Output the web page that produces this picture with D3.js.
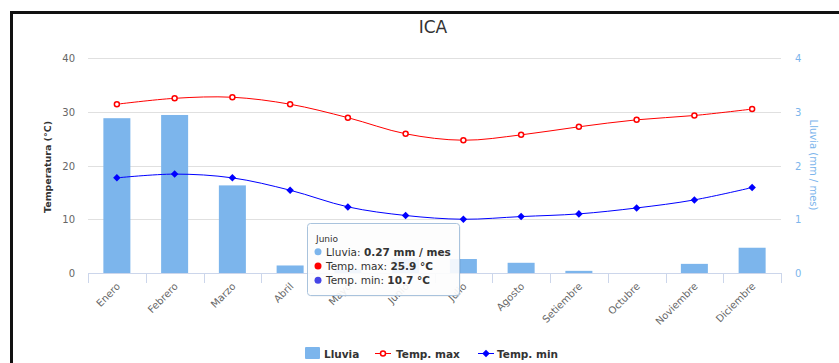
<!DOCTYPE html>
<html>
<head>
<meta charset="utf-8">
<script src="https://cdn.jsdelivr.net/npm/d3@7"></script>
<style>
  body { margin: 0; background: #fff; }
  svg { display: block; font-family: "DejaVu Sans", sans-serif; }
</style>
</head>
<body>
<div id="chart"></div>
<script>
var meses = ["Enero", "Febrero", "Marzo", "Abril", "Mayo", "Junio", "Julio",
  "Agosto", "Setiembre", "Octubre", "Noviembre", "Diciembre"];
var lluvia = [2.88, 2.94, 1.63, 0.14, 0.08, 0.27, 0.26, 0.19, 0.04, 0, 0.17, 0.47];
var tempMax = [31.4, 32.5, 32.7, 31.4, 28.9, 25.9, 24.7, 25.7, 27.2, 28.5, 29.3, 30.5];
var tempMin = [17.7, 18.4, 17.7, 15.4, 12.3, 10.7, 10.0, 10.5, 11.0, 12.1, 13.6, 15.9];
var tempTicks = [0, 10, 20, 30, 40];
var lluviaTicks = [0, 1, 2, 3, 4];

var width = 839, height = 363;
var plotLeft = 88, plotRight = 781, plotTop = 58, plotBottom = 273;

var svg = d3.select("#chart").append("svg")
  .attr("width", width)
  .attr("height", height);

// frame
svg.append("path")
  .attr("d", "M11.5,363 V12.5 H839")
  .attr("fill", "none")
  .attr("stroke", "#111")
  .attr("stroke-width", 3);

var x = d3.scaleBand().domain(meses).range([plotLeft, plotRight]);
var yT = d3.scaleLinear().domain([0, 40]).range([plotBottom, plotTop]);
var yL = d3.scaleLinear().domain([0, 4]).range([plotBottom, plotTop]);

// title
svg.append("text")
  .attr("x", 433).attr("y", 33)
  .attr("text-anchor", "middle")
  .style("font-size", "17px")
  .style("fill", "#333")
  .text("ICA");

// grid
svg.append("g").selectAll("line")
  .data(tempTicks.slice(1))
  .enter().append("line")
  .attr("x1", plotLeft).attr("x2", plotRight)
  .attr("y1", function(d) { return Math.round(yT(d)) + 0.5; })
  .attr("y2", function(d) { return Math.round(yT(d)) + 0.5; })
  .attr("stroke", "#e0e0e0");

// left axis labels
svg.append("g").selectAll("text")
  .data(tempTicks)
  .enter().append("text")
  .attr("x", 75).attr("y", function(d) { return yT(d) + 4; })
  .attr("text-anchor", "end")
  .style("font-size", "10px")
  .style("fill", "#666")
  .text(function(d) { return d; });

// right axis labels
svg.append("g").selectAll("text")
  .data(lluviaTicks)
  .enter().append("text")
  .attr("x", 795).attr("y", function(d) { return yL(d) + 4; })
  .style("font-size", "10px")
  .style("fill", "#7cb5ec")
  .text(function(d) { return d; });

// axis titles
svg.append("text")
  .attr("transform", "translate(51,167) rotate(-90)")
  .attr("text-anchor", "middle")
  .style("font-size", "9.5px")
  .style("font-weight", "bold")
  .style("fill", "#333")
  .text("Temperatura (°C)");

svg.append("text")
  .attr("transform", "translate(810,165) rotate(90)")
  .attr("text-anchor", "middle")
  .style("font-size", "10px")
  .style("fill", "#7cb5ec")
  .text("Lluvia (mm / mes)");

// bars
var bw = 27;
svg.append("g").selectAll("rect")
  .data(lluvia)
  .enter().append("rect")
  .attr("x", function(d, i) { return x(meses[i]) + x.bandwidth() / 2 - bw / 2; })
  .attr("y", function(d) { return yL(d); })
  .attr("width", bw)
  .attr("height", function(d) { return plotBottom - yL(d); })
  .attr("fill", "#7cb5ec");

// x axis
svg.append("line")
  .attr("x1", plotLeft).attr("x2", plotRight)
  .attr("y1", plotBottom + 0.5).attr("y2", plotBottom + 0.5)
  .attr("stroke", "#ccd6eb");

svg.append("g").selectAll("line")
  .data(d3.range(meses.length + 1))
  .enter().append("line")
  .attr("x1", function(i) { return Math.round(plotLeft + i * x.step()) + 0.5; })
  .attr("x2", function(i) { return Math.round(plotLeft + i * x.step()) + 0.5; })
  .attr("y1", plotBottom).attr("y2", plotBottom + 10)
  .attr("stroke", "#ccd6eb");

svg.append("g").selectAll("text")
  .data(meses)
  .enter().append("text")
  .attr("transform", function(d) {
    return "translate(" + (x(d) + x.bandwidth() / 2 + 4) + "," + (plotBottom + 14) + ") rotate(-45)";
  })
  .attr("text-anchor", "end")
  .style("font-size", "10px")
  .style("fill", "#666")
  .text(function(d) { return d; });

// lines
var cx = function(i) { return x(meses[i]) + x.bandwidth() / 2; };
var line = d3.line()
  .x(function(d, i) { return cx(i); })
  .y(function(d) { return yT(d); })
  .curve(d3.curveCatmullRom.alpha(0.5));

svg.append("path")
  .attr("d", line(tempMax))
  .attr("fill", "none")
  .attr("stroke", "#ff0000")
  .attr("stroke-width", 1);

svg.append("path")
  .attr("d", line(tempMin))
  .attr("fill", "none")
  .attr("stroke", "#0000ff")
  .attr("stroke-width", 1);

svg.append("g").selectAll("circle")
  .data(tempMax)
  .enter().append("circle")
  .attr("cx", function(d, i) { return cx(i); })
  .attr("cy", function(d) { return yT(d); })
  .attr("r", 2.5)
  .attr("fill", "#fff")
  .attr("stroke", "#ff0000")
  .attr("stroke-width", 1.5);

var diamond = d3.symbol().type(d3.symbolDiamond2).size(36);
svg.append("g").selectAll("path")
  .data(tempMin)
  .enter().append("path")
  .attr("transform", function(d, i) { return "translate(" + cx(i) + "," + yT(d) + ")"; })
  .attr("d", diamond)
  .attr("fill", "#0000ff");

// legend
var lg = svg.append("g").style("font-size", "10.5px").style("font-weight", "bold").style("fill", "#333");
lg.append("rect").attr("x", 305).attr("y", 347).attr("width", 15).attr("height", 12)
  .attr("rx", 1).attr("fill", "#7cb5ec");
lg.append("text").attr("x", 324).attr("y", 357.5).text("Lluvia");
lg.append("line").attr("x1", 375).attr("x2", 391).attr("y1", 353.5).attr("y2", 353.5)
  .attr("stroke", "#ff0000");
lg.append("circle").attr("cx", 383).attr("cy", 353.5).attr("r", 2.5)
  .attr("fill", "#fff").attr("stroke", "#ff0000").attr("stroke-width", 1.5);
lg.append("text").attr("x", 396).attr("y", 357.5).text("Temp. max");
lg.append("line").attr("x1", 478).attr("x2", 494).attr("y1", 353.5).attr("y2", 353.5)
  .attr("stroke", "#0000ff");
lg.append("path").attr("transform", "translate(486,353.5)").attr("d", diamond).attr("fill", "#0000ff");
lg.append("text").attr("x", 497).attr("y", 357.5).text("Temp. min");

// tooltip (Junio)
var k = 5;
var tt = svg.append("g").attr("transform", "translate(307,223)");
tt.append("rect").attr("x", 1.5).attr("y", 1.5).attr("width", 152).attr("height", 72)
  .attr("rx", 3).attr("fill", "rgba(0,0,0,0.08)");
tt.append("rect").attr("x", 0.5).attr("y", 0.5).attr("width", 152).attr("height", 72)
  .attr("rx", 3).attr("fill", "rgba(255,255,255,0.9)")
  .attr("stroke", "#a9c3dd").attr("stroke-width", 1);
tt.append("text").attr("x", 9).attr("y", 18.5).style("font-size", "9px").style("fill", "#333")
  .text(meses[k]);
var rows = [
  {c: "#7cb5ec", n: "Lluvia: ", v: lluvia[k] + " mm / mes"},
  {c: "#ff0000", n: "Temp. max: ", v: tempMax[k] + " °C"},
  {c: "#4545e6", n: "Temp. min: ", v: tempMin[k] + " °C"}
];
rows.forEach(function(r, i) {
  var yy = 28.7 + i * 14.3;
  tt.append("circle").attr("cx", 11).attr("cy", yy).attr("r", 3.5).attr("fill", r.c);
  var t = tt.append("text").attr("x", 19).attr("y", yy + 4)
    .style("font-size", "10.5px").style("fill", "#333");
  t.append("tspan").text(r.n);
  t.append("tspan").style("font-weight", "bold").text(r.v);
});
</script>
</body>
</html>
